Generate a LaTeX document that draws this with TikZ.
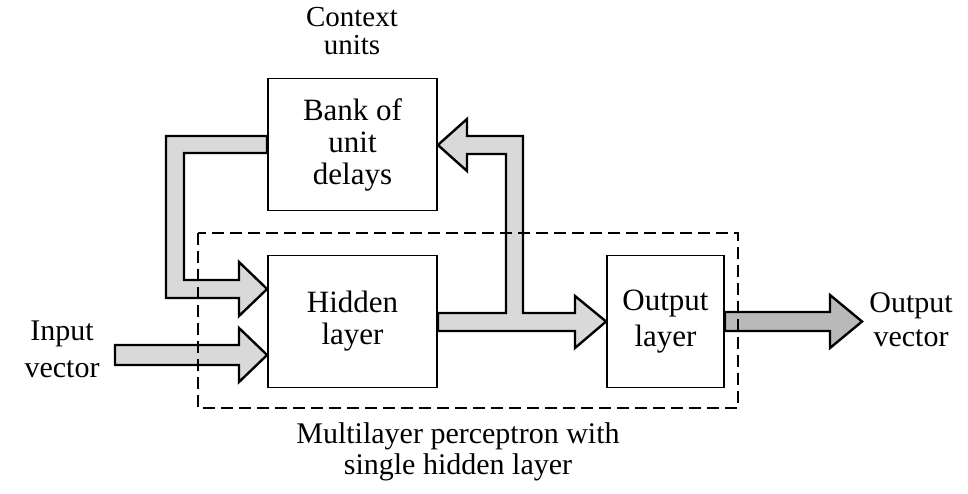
\documentclass[tikz,border=0pt]{standalone}
\usepackage{fontspec}
\setmainfont{Liberation Serif}
\usetikzlibrary{calc}
\begin{document}
\begin{tikzpicture}[x=1pt,y=-1pt,
  blockbox/.style={draw=black,line width=1.8pt,fill=white,minimum width=169pt,minimum height=132pt,align=center,inner sep=0pt,font=\fontsize{31}{32}\selectfont},
  fatarrow/.style={draw=black,line width=2.4pt,fill=gray!30,line join=miter},
  darkarrow/.style={draw=black,line width=2.4pt,fill=gray!55,line join=miter},
  lbl/.style={align=center,inner sep=0pt,font=\fontsize{30}{31}\selectfont},
  mlpbox/.style={draw=black,line width=1.5pt,dash pattern=on 12pt off 6pt}]
\useasboundingbox (0,0) rectangle (968,493);

\node[blockbox] (bank) at (352.5,144.5) {Bank of\\unit\\delays};
\node[blockbox] (hid) at (352.5,321.5) {Hidden\\layer};
\node[blockbox,minimum width=117pt,font=\fontsize{31}{36}\selectfont] (out) at (665.5,321.5) {Output\\layer};

\node[lbl,font=\fontsize{29}{28}\selectfont] (ctx) at (352,31) {Context\\units};
\node[lbl,font=\fontsize{30}{37}\selectfont] (inp) at (62,349) {Input\\vector};
\node[lbl,font=\fontsize{30}{34}\selectfont] (ovec) at (911,320) {Output\\vector};
\node[lbl] (mlp) at (458,452) {Multilayer perceptron with\\single hidden layer};

% feedback arrow: bank -> hidden
\draw[fatarrow] ($(bank.west)+(0,-8.5)$) -- (166,136) -- (166,298) -- (239,298) -- (239,316)
  -- ($(hid.west)+(0,-32.5)$) -- (239,262) -- (239,280) -- (184,280) -- (184,153)
  -- ($(bank.west)+(0,8.5)$) -- cycle;

% input arrow
\draw[fatarrow] (115,345) -- (239,345) -- (239,328) -- ($(hid.west)+(0,33.5)$)
  -- (239,382) -- (239,365) -- (115,365) -- cycle;

% hidden -> output, with branch back to bank
\draw[fatarrow] ($(hid.east)+(0,-8.5)$) -- (506,313) -- (506,154) -- (467,154) -- (467,171)
  -- ($(bank.east)+(0,0.5)$) -- (467,119) -- (467,136) -- (523,136) -- (523,313)
  -- (575,313) -- (575,296) -- (out.west) -- (575,348) -- (575,331)
  -- ($(hid.east)+(0,9.5)$) -- cycle;

% output vector arrow
\draw[darkarrow] ($(out.east)+(0,-9.5)$) -- (830,312) -- (830,295) -- (862,321.5)
  -- (830,348) -- (830,331) -- ($(out.east)+(0,9.5)$) -- cycle;

% MLP dashed frame
\draw[mlpbox] (198,233) rectangle (738,408);
\end{tikzpicture}
\end{document}
